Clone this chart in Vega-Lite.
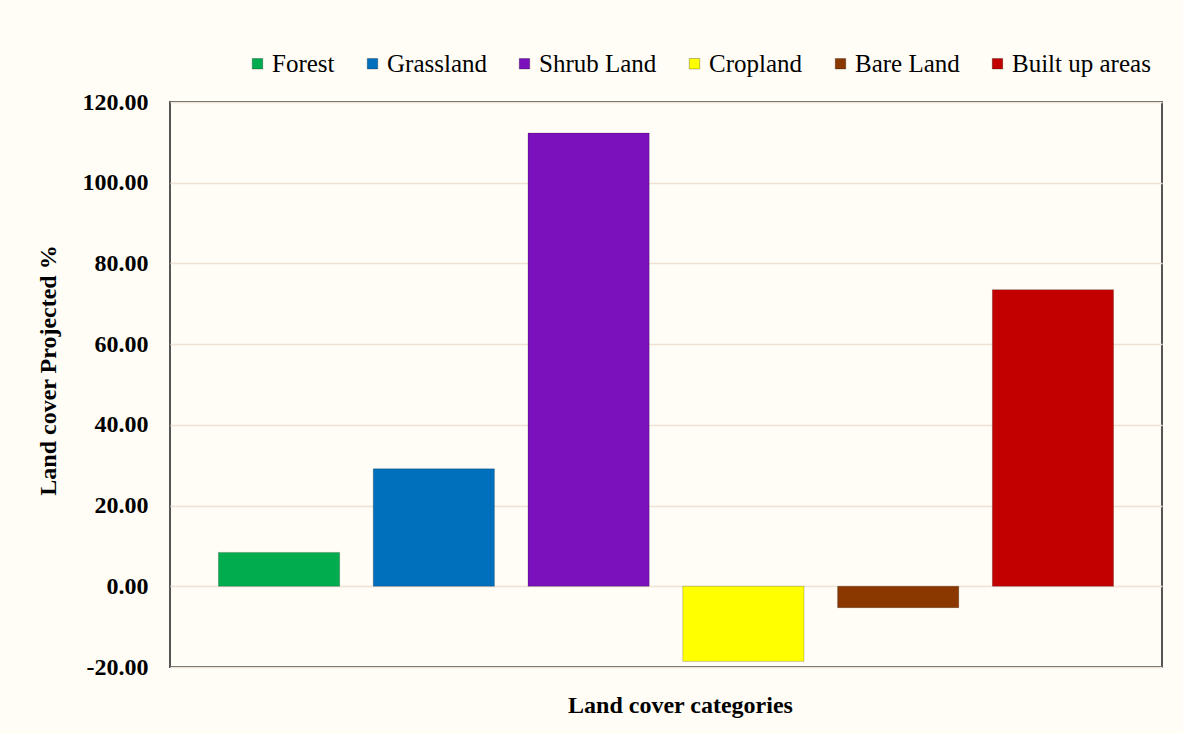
{
  "$schema": "https://vega.github.io/schema/vega-lite/v6.json",
  "width": 992,
  "height": 565,
  "autosize": "none",
  "padding": {"left": 170, "top": 102, "right": 21, "bottom": 67},
  "background": "#fffdf5",
  "data": {
    "values": [
      {"category": "Forest", "value": 8.4},
      {"category": "Grassland", "value": 29.1},
      {"category": "Shrub Land", "value": 112.3},
      {"category": "Cropland", "value": -18.6},
      {"category": "Bare Land", "value": -5.3},
      {"category": "Built up areas", "value": 73.5}
    ]
  },
  "config": {
    "view": {"stroke": "#555555", "strokeWidth": 2, "fill": "#fffdf5"},
    "font": "Liberation Serif"
  },
  "mark": {"type": "bar", "stroke": "#000000", "strokeOpacity": 0.2, "strokeWidth": 1},
  "encoding": {
    "x": {
      "field": "category",
      "type": "nominal",
      "sort": null,
      "scale": {"paddingInner": 0.217, "paddingOuter": 0.313},
      "axis": {
        "labels": false,
        "ticks": false,
        "domain": false,
        "title": "Land cover categories",
        "titleFont": "Liberation Serif",
        "titleFontSize": 24,
        "titleFontWeight": "bold",
        "titleColor": "#000000",
        "titlePadding": 26,
        "titleX": 510
      }
    },
    "y": {
      "field": "value",
      "type": "quantitative",
      "scale": {"domain": [-20, 120], "nice": false},
      "axis": {
        "values": [-20, 0, 20, 40, 60, 80, 100, 120],
        "labelExpr": "datum.value < 0 ? '-' + format(-datum.value, '.2f') : format(datum.value, '.2f')",
        "labelFont": "Liberation Serif",
        "labelFontSize": 24,
        "labelFontWeight": "bold",
        "labelColor": "#000000",
        "labelPadding": 22,
        "ticks": false,
        "domain": false,
        "gridColor": "#efe3d6",
        "gridWidth": 1.5,
        "title": "Land cover Projected %",
        "titleFont": "Liberation Serif",
        "titleFontSize": 24,
        "titleFontWeight": "bold",
        "titleColor": "#000000",
        "titlePadding": 22,
        "titleY": 268
      }
    },
    "color": {
      "field": "category",
      "type": "nominal",
      "sort": null,
      "scale": {
        "domain": ["Forest", "Grassland", "Shrub Land", "Cropland", "Bare Land", "Built up areas"],
        "range": ["#00ac4e", "#0070bd", "#7b10bd", "#ffff00", "#8b3800", "#c20000"]
      },
      "legend": {
        "orient": "none",
        "legendX": 75,
        "legendY": -51,
        "direction": "horizontal",
        "title": null,
        "symbolType": "square",
        "symbolSize": 110,
        "symbolStrokeColor": "#00000044",
        "symbolStrokeWidth": 1,
        "labelFont": "Liberation Serif",
        "labelFontSize": 25,
        "labelColor": "#000000",
        "labelOffset": 2,
        "columnPadding": 25,
        "labelLimit": 300
      }
    }
  }
}
